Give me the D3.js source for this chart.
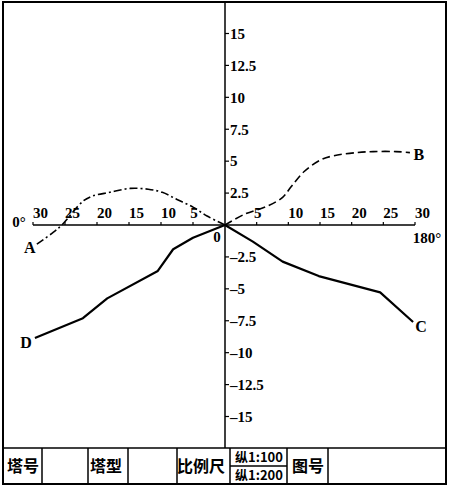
<!DOCTYPE html>
<html><head><meta charset="utf-8">
<script src="https://cdn.jsdelivr.net/npm/d3@7"></script>
<style>html,body{margin:0;padding:0;background:#fff;}svg{display:block;}</style>
</head><body>
<svg id="c" width="450" height="487"></svg>
<script>
// ---- data ----
const xTickValues = [5, 10, 15, 20, 25, 30];
const yTickValues = [15, 12.5, 10, 7.5, 5, 2.5, -2.5, -5, -7.5, -10, -12.5, -15];

// left side (0° side), distance measured leftwards from the tower
const curveA_x = [29.4, 26.9, 25.5, 22.2, 20.8, 18, 14.8, 12, 9.8, 7.5, 5, 2.8, 0];
const curveA_y = [-1.5, -0.6, 0, 1.86, 2.25, 2.56, 2.87, 2.8, 2.56, 2.0, 1.4, 0.7, 0];
const curveD_x = [0, 5, 8.1, 10.5, 18.4, 22.2, 29.7];
const curveD_y = [0, -1.0, -1.9, -3.6, -5.75, -7.3, -8.85];

// right side (180° side)
const curveB_x = [0, 3.1, 6.7, 9.1, 10.5, 12.5, 15.2, 17.2, 20.8, 23.4, 27, 29.2];
const curveB_y = [0, 0.85, 1.48, 2.17, 3.03, 4.19, 5.12, 5.43, 5.67, 5.75, 5.75, 5.67];
const curveC_x = [0, 4.4, 9.1, 14.8, 24.5, 29.7];
const curveC_y = [0, -1.3, -2.87, -4.0, -5.28, -7.6];

const endLabels = ["A", "B", "C", "D"];
const tableTexts = ["塔号", "塔型", "比例尺", "纵1:100", "纵1:200", "图号"];
const sideLabels = ["0°", "180°", "0"];

// ---- drawing ----
const svg = d3.select("#c");
const serif = "'Liberation Serif','DejaVu Serif',serif";
const cjk = "'Noto Sans CJK SC',sans-serif";

const xLeft = d3.scaleLinear().domain([0, 30]).range([225, 33]);
const xRight = d3.scaleLinear().domain([0, 30]).range([225, 415]);
const y = d3.scaleLinear().domain([15, -15]).range([33.5, 416.5]);

// outer frame
svg.append("rect").attr("x", 3).attr("y", 2).attr("width", 443).attr("height", 482)
  .attr("fill", "none").attr("stroke", "#000").attr("stroke-width", 2);

// vertical axis
svg.append("line").attr("x1", 225).attr("x2", 225).attr("y1", 2).attr("y2", 448)
  .attr("stroke", "#000").attr("stroke-width", 1.5);
// horizontal axis
svg.append("line").attr("x1", xLeft(30)).attr("x2", xRight(30)).attr("y1", y(0)).attr("y2", y(0))
  .attr("stroke", "#000").attr("stroke-width", 1.5);

// y ticks + labels
const yg = svg.append("g");
yTickValues.forEach(v => {
  yg.append("line").attr("x1", 225).attr("x2", 229).attr("y1", y(v)).attr("y2", y(v))
    .attr("stroke", "#000").attr("stroke-width", 1.2);
  yg.append("text").attr("x", 230).attr("y", y(v)).attr("dy", "0.35em")
    .attr("font-family", serif).attr("font-size", 15).attr("font-weight", "bold")
    .text(v < 0 ? "–" + Math.abs(v) : String(v));
});

// x ticks + labels
const xg = svg.append("g");
[xLeft, xRight].forEach(sc => {
  xTickValues.forEach(v => {
    const px = sc(v);
    xg.append("line").attr("x1", px).attr("x2", px).attr("y1", y(0) - 3).attr("y2", y(0))
      .attr("stroke", "#000").attr("stroke-width", 1.2);
    const s = String(v);
    xg.append("text").attr("x", s.length > 1 ? px : px + 1).attr("y", 218)
      .attr("text-anchor", s.length > 1 ? "start" : "middle")
      .attr("font-family", serif).attr("font-size", 15).attr("font-weight", "bold")
      .text(s);
  });
});

// side labels
svg.append("text").attr("x", 19).attr("y", 227).attr("text-anchor", "middle")
  .attr("font-family", serif).attr("font-size", 15).attr("font-weight", "bold").text(sideLabels[0]);
svg.append("text").attr("x", 427).attr("y", 243).attr("text-anchor", "middle")
  .attr("font-family", serif).attr("font-size", 15).attr("font-weight", "bold").text(sideLabels[1]);
svg.append("text").attr("x", 217).attr("y", 242).attr("text-anchor", "middle")
  .attr("font-family", serif).attr("font-size", 15).attr("font-weight", "bold").text(sideLabels[2]);

// curves
function pts(xs, ys, sc) { return xs.map((d, i) => [sc(d), y(ys[i])]); }
const smooth = d3.line().curve(d3.curveCatmullRom.alpha(0.5));
const straight = d3.line();

svg.append("path").attr("d", smooth(pts(curveA_x, curveA_y, xLeft)))
  .attr("fill", "none").attr("stroke", "#000").attr("stroke-width", 1.6)
  .attr("stroke-dasharray", "8,3,2,3");
svg.append("path").attr("d", smooth(pts(curveB_x, curveB_y, xRight)))
  .attr("fill", "none").attr("stroke", "#000").attr("stroke-width", 1.6)
  .attr("stroke-dasharray", "8,4");
svg.append("path").attr("d", straight(pts(curveC_x, curveC_y, xRight)))
  .attr("fill", "none").attr("stroke", "#000").attr("stroke-width", 2.2)
  .attr("stroke-linejoin", "round");
svg.append("path").attr("d", straight(pts(curveD_x, curveD_y, xLeft)))
  .attr("fill", "none").attr("stroke", "#000").attr("stroke-width", 2.2)
  .attr("stroke-linejoin", "round");

// end labels
const ends = [
  [xLeft(curveA_x[0]) - 7, y(curveA_y[0]) + 3],
  [xRight(curveB_x[curveB_x.length - 1]) + 9, y(curveB_y[curveB_y.length - 1]) + 2],
  [xRight(curveC_x[curveC_x.length - 1]) + 8, y(curveC_y[curveC_y.length - 1]) + 4],
  [xLeft(curveD_x[curveD_x.length - 1]) - 9, y(curveD_y[curveD_y.length - 1]) + 4]
];
endLabels.forEach((t, i) => {
  svg.append("text").attr("x", ends[i][0]).attr("y", ends[i][1]).attr("dy", "0.35em")
    .attr("text-anchor", "middle").attr("font-family", serif).attr("font-size", 16)
    .attr("font-weight", "bold").text(t);
});

// bottom table
const tg = svg.append("g").attr("stroke", "#000").attr("stroke-width", 1.5);
tg.append("line").attr("x1", 3).attr("x2", 446).attr("y1", 448).attr("y2", 448);
[42, 88, 128, 177, 230, 287, 328].forEach(x => {
  tg.append("line").attr("x1", x).attr("x2", x).attr("y1", 448).attr("y2", 484);
});
tg.append("line").attr("x1", 230).attr("x2", 287).attr("y1", 466).attr("y2", 466);

const cells = [
  [23, 466, 16], [106, 466, 16], [201, 466, 16],
  [259, 457, 13], [259, 475, 13], [308, 466, 16]
];
tableTexts.forEach((t, i) => {
  svg.append("text").attr("x", cells[i][0]).attr("y", cells[i][1]).attr("dy", "0.35em")
    .attr("text-anchor", "middle").attr("font-family", cjk).attr("font-weight", "bold")
    .attr("font-size", cells[i][2]).text(t);
});
</script>
</body></html>
